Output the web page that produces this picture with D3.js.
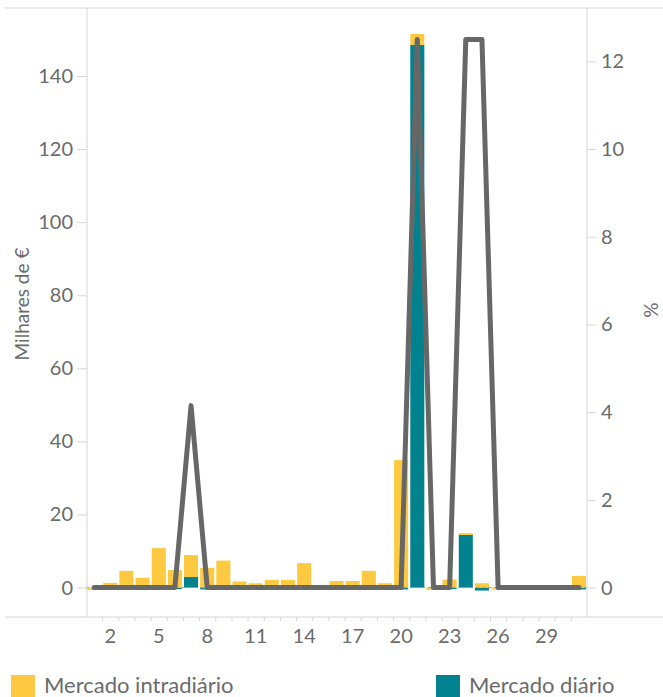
<!DOCTYPE html>
<meta charset="utf-8">
<script src="https://d3js.org/d3.v7.min.js"></script>
<style>
  body { margin: 0; background: #fff; }
  text { font-family: Lato, "Open Sans", sans-serif; fill: #6b6b6b; }
</style>
<div id="chart"></div>
<script>

// days of the month
var days = d3.range(1, 32);

// Mercado intradiário (milhares de €)
var intradiario = [-0.6, 1.3, 4.6, 2.7, 10.8, 4.8, 6.0, 5.4, 7.4, 1.7,
                   1.2, 2.1, 2.1, 6.7, 0, 1.8, 1.8, 4.6, 1.2, 34.9,
                   3.0, -0.6, 2.2, 0.5, 1.2, -0.5, 0.2, 0.2, 0.2, 0.1, 3.2];

// Mercado diário (milhares de €)
var diario = [0, 0, 0, 0, 0, -0.4, 2.9, -0.5, 0, 0,
              0, 0, 0, 0, 0, 0, 0, 0, 0, -0.5,
              148.5, 0, -0.4, 14.4, -0.8, 0, 0, 0, 0, 0, -0.5];

// percentage line (%)
var percent = [0, 0, 0, 0, 0, 0, 4.15, 0, 0, 0,
               0, 0, 0, 0, 0, 0, 0, 0, 0, 0,
               12.5, 0, 0, 12.5, 12.5, 0, 0, 0, 0, 0, 0];

var xLabels = [2, 5, 8, 11, 14, 17, 20, 23, 26, 29];
var leftTicks = [0, 20, 40, 60, 80, 100, 120, 140];
var rightTicks = [0, 2, 4, 6, 8, 10, 12];

var width = 663, height = 697;
var plotLeft = 86, plotRight = 587, plotTop = 8, plotBottom = 617;
var yellow = "#FCC940", teal = "#00838F", axisColor = "#d6d6d6";

var svg = d3.select("#chart").append("svg")
    .attr("width", width)
    .attr("height", height);

// scales
var x = d3.scaleBand()
    .domain(days)
    .range([plotLeft, plotRight])
    .paddingInner(0.13)
    .paddingOuter(0.065);

var xLin = d3.scaleLinear().domain([0.5, 31.5]).range([plotLeft, plotRight]);

var yL = d3.scaleLinear().domain([-8.04, 158.6]).range([plotBottom, plotTop]);
var yR = d3.scaleLinear().domain([-8.04 / 12, 158.6 / 12]).range([plotBottom, plotTop]);

// stacked bars (teal at the base, yellow above)
var rows = days.map(function(d, i) {
  return { day: d, diario: diario[i], intradiario: intradiario[i] };
});
var stack = d3.stack()
    .keys(["diario", "intradiario"])
    .offset(d3.stackOffsetDiverging);
var series = stack(rows);
var colors = { diario: teal, intradiario: yellow };

svg.append("g")
  .selectAll("g")
  .data(series)
  .enter()
  .append("g")
    .attr("fill", function(s) { return colors[s.key]; })
  .selectAll("rect")
  .data(function(s) { return s; })
  .enter()
  .append("rect")
    .attr("x", function(d) { return x(d.data.day); })
    .attr("width", x.bandwidth())
    .attr("y", function(d) { return yL(Math.max(d[0], d[1])); })
    .attr("height", function(d) { return Math.abs(yL(d[0]) - yL(d[1])); });

// dashed zero line
svg.append("line")
    .attr("x1", plotLeft).attr("x2", plotRight)
    .attr("y1", yL(0)).attr("y2", yL(0))
    .attr("stroke", "#9a9a9a")
    .attr("stroke-width", 1)
    .attr("stroke-dasharray", "3,3");

// percentage line
var line = d3.line()
    .x(function(d, i) { return x(days[i]) + x.bandwidth() / 2; })
    .y(function(d) { return yR(d); });

svg.append("path")
    .datum(percent)
    .attr("d", line)
    .attr("fill", "none")
    .attr("stroke", "#676767")
    .attr("stroke-width", 5)
    .attr("stroke-linejoin", "round")
    .attr("stroke-linecap", "round");

// frame lines
svg.append("line").attr("x1", 5).attr("x2", width).attr("y1", plotTop).attr("y2", plotTop)
    .attr("stroke", axisColor);
svg.append("line").attr("x1", 5).attr("x2", width).attr("y1", plotBottom).attr("y2", plotBottom)
    .attr("stroke", axisColor);
svg.append("line").attr("x1", plotLeft + 1).attr("x2", plotLeft + 1).attr("y1", plotTop).attr("y2", plotBottom)
    .attr("stroke", axisColor);
svg.append("line").attr("x1", plotRight).attr("x2", plotRight).attr("y1", plotTop).attr("y2", plotBottom)
    .attr("stroke", axisColor);

// left axis
var gL = svg.append("g")
    .attr("transform", "translate(" + (plotLeft + 1) + ",0)")
    .call(d3.axisLeft(yL).tickValues(leftTicks).tickSize(10).tickPadding(4));
gL.select(".domain").remove();
gL.selectAll(".tick line").attr("stroke", axisColor);
gL.selectAll(".tick text").style("font-size", "20px").attr("fill", "#6b6b6b");

// right axis
var gR = svg.append("g")
    .attr("transform", "translate(" + plotRight + ",0)")
    .call(d3.axisRight(yR).tickValues(rightTicks).tickSize(9).tickPadding(5));
gR.select(".domain").remove();
gR.selectAll(".tick line").attr("stroke", axisColor);
gR.selectAll(".tick text").style("font-size", "20px").attr("fill", "#6b6b6b");

// x axis: boundary ticks
var gXt = svg.append("g")
    .attr("transform", "translate(0," + plotBottom + ")")
    .call(d3.axisBottom(xLin).tickValues(d3.range(1.5, 31, 1)).tickSize(4).tickFormat(""));
gXt.select(".domain").remove();
gXt.selectAll(".tick line").attr("stroke", axisColor);

// x axis: labels
var gX = svg.append("g")
    .attr("transform", "translate(0," + plotBottom + ")")
    .call(d3.axisBottom(x).tickValues(xLabels).tickSize(0).tickPadding(12));
gX.select(".domain").remove();
gX.selectAll(".tick text").style("font-size", "20px").attr("fill", "#6b6b6b");

// axis titles
svg.append("text")
    .attr("transform", "translate(29,304) rotate(-90)")
    .attr("text-anchor", "middle")
    .style("font-size", "19px")
    .text("Milhares de €");

svg.append("text")
    .attr("transform", "translate(644,310) rotate(90)")
    .attr("text-anchor", "middle")
    .style("font-size", "19px")
    .text("%");

// legend
var legend = [
  { label: "Mercado intradiário", color: yellow, x: 11 },
  { label: "Mercado diário", color: teal, x: 436 }
];
var lg = svg.append("g")
  .selectAll("g")
  .data(legend)
  .enter()
  .append("g")
    .attr("transform", function(d) { return "translate(" + d.x + ",675)"; });
lg.append("rect")
    .attr("width", 24)
    .attr("height", 24)
    .attr("fill", function(d) { return d.color; });
lg.append("text")
    .attr("x", 33)
    .attr("y", 18)
    .style("font-size", "22px")
    .text(function(d) { return d.label; });

</script>
